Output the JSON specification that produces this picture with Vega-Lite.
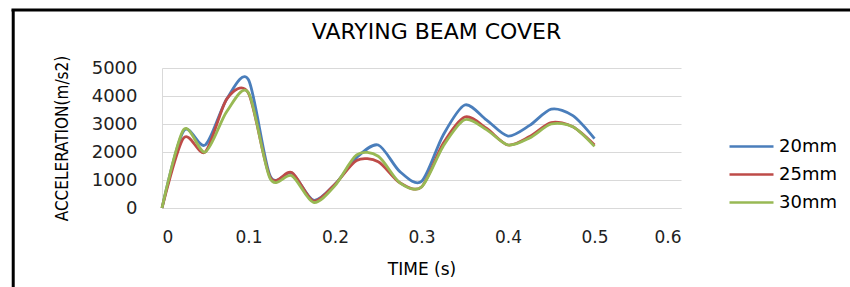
{
  "$schema": "https://vega.github.io/schema/vega-lite/v6.json",
  "width": 519,
  "height": 140,
  "autosize": {"type": "none"},
  "padding": {"left": 162, "top": 68, "right": 169, "bottom": 79},
  "background": "white",
  "config": {"view": {"stroke": null}},
  "title": {"text": "VARYING BEAM COVER", "font": "DejaVu Sans", "fontSize": 22, "fontWeight": "normal", "color": "#000000", "anchor": "middle", "baseline": "bottom", "offset": -58, "dx": 15},
  "datasets": {
    "series": [
      {"t": 0, "a": 0, "s": "20mm"}, {"t": 0.025, "a": 2750, "s": "20mm"}, {"t": 0.05, "a": 2250, "s": "20mm"}, {"t": 0.075, "a": 3900, "s": "20mm"}, {"t": 0.1, "a": 4580, "s": "20mm"}, {"t": 0.125, "a": 1150, "s": "20mm"}, {"t": 0.15, "a": 1250, "s": "20mm"}, {"t": 0.175, "a": 280, "s": "20mm"}, {"t": 0.2, "a": 850, "s": "20mm"}, {"t": 0.225, "a": 1800, "s": "20mm"}, {"t": 0.25, "a": 2250, "s": "20mm"}, {"t": 0.275, "a": 1300, "s": "20mm"}, {"t": 0.3, "a": 950, "s": "20mm"}, {"t": 0.325, "a": 2600, "s": "20mm"}, {"t": 0.35, "a": 3680, "s": "20mm"}, {"t": 0.375, "a": 3150, "s": "20mm"}, {"t": 0.4, "a": 2570, "s": "20mm"}, {"t": 0.425, "a": 2950, "s": "20mm"}, {"t": 0.45, "a": 3530, "s": "20mm"}, {"t": 0.475, "a": 3300, "s": "20mm"}, {"t": 0.5, "a": 2480, "s": "20mm"},
      {"t": 0, "a": 0, "s": "25mm"}, {"t": 0.025, "a": 2500, "s": "25mm"}, {"t": 0.05, "a": 2000, "s": "25mm"}, {"t": 0.075, "a": 3900, "s": "25mm"}, {"t": 0.1, "a": 4100, "s": "25mm"}, {"t": 0.125, "a": 1100, "s": "25mm"}, {"t": 0.15, "a": 1270, "s": "25mm"}, {"t": 0.175, "a": 250, "s": "25mm"}, {"t": 0.2, "a": 850, "s": "25mm"}, {"t": 0.225, "a": 1700, "s": "25mm"}, {"t": 0.25, "a": 1650, "s": "25mm"}, {"t": 0.275, "a": 900, "s": "25mm"}, {"t": 0.3, "a": 750, "s": "25mm"}, {"t": 0.325, "a": 2300, "s": "25mm"}, {"t": 0.35, "a": 3250, "s": "25mm"}, {"t": 0.375, "a": 2850, "s": "25mm"}, {"t": 0.4, "a": 2250, "s": "25mm"}, {"t": 0.425, "a": 2550, "s": "25mm"}, {"t": 0.45, "a": 3050, "s": "25mm"}, {"t": 0.475, "a": 2900, "s": "25mm"}, {"t": 0.5, "a": 2250, "s": "25mm"},
      {"t": 0, "a": 0, "s": "30mm"}, {"t": 0.025, "a": 2800, "s": "30mm"}, {"t": 0.05, "a": 2000, "s": "30mm"}, {"t": 0.075, "a": 3450, "s": "30mm"}, {"t": 0.1, "a": 4120, "s": "30mm"}, {"t": 0.125, "a": 1050, "s": "30mm"}, {"t": 0.15, "a": 1150, "s": "30mm"}, {"t": 0.175, "a": 200, "s": "30mm"}, {"t": 0.2, "a": 800, "s": "30mm"}, {"t": 0.225, "a": 1900, "s": "30mm"}, {"t": 0.25, "a": 1850, "s": "30mm"}, {"t": 0.275, "a": 900, "s": "30mm"}, {"t": 0.3, "a": 750, "s": "30mm"}, {"t": 0.325, "a": 2200, "s": "30mm"}, {"t": 0.35, "a": 3150, "s": "30mm"}, {"t": 0.375, "a": 2800, "s": "30mm"}, {"t": 0.4, "a": 2250, "s": "30mm"}, {"t": 0.425, "a": 2500, "s": "30mm"}, {"t": 0.45, "a": 3000, "s": "30mm"}, {"t": 0.475, "a": 2900, "s": "30mm"}, {"t": 0.5, "a": 2200, "s": "30mm"}
    ]
  },
  "layer": [
    {
      "data": {"name": "series"},
      "mark": {"type": "line", "interpolate": "cardinal", "tension": 0.15, "strokeWidth": 2.8},
      "encoding": {
        "x": {"field": "t", "type": "quantitative",
          "scale": {"domain": [0, 0.6], "nice": false, "zero": false},
          "axis": {"title": "TIME (s)", "values": [0, 0.1, 0.2, 0.3, 0.4, 0.5, 0.6], "format": "~g", "grid": false, "ticks": false, "domainColor": "#d9d9d9", "labelFont": "DejaVu Sans", "labelFontSize": 17, "labelColor": "#222222", "labelPadding": 21, "labelOverlap": false, "titleFont": "DejaVu Sans", "titleFontSize": 17, "titleFontWeight": "normal", "titleColor": "#000000", "titlePadding": 16}},
        "y": {"field": "a", "type": "quantitative",
          "scale": {"domain": [0, 5000], "nice": false},
          "axis": {"title": "ACCELERATION(m/s2)", "values": [0, 1000, 2000, 3000, 4000, 5000], "format": "d", "grid": true, "gridColor": "#d9d9d9", "ticks": false, "domainColor": "#d9d9d9", "labelFont": "DejaVu Sans", "labelFontSize": 18, "labelColor": "#222222", "labelPadding": 25, "labelOverlap": false, "labelBound": false, "titleFont": "DejaVu Sans Condensed", "titleFontSize": 17, "titleFontWeight": "normal", "titleColor": "#000000", "titlePadding": 20}},
        "color": {"field": "s", "type": "nominal",
          "scale": {"domain": ["20mm", "25mm", "30mm"], "range": ["#4a7ebb", "#be4b48", "#98b954"]},
          "legend": {"title": null, "orient": "none", "legendX": 566, "legendY": 70, "symbolType": "stroke", "symbolSize": 1936, "symbolStrokeWidth": 2.5, "clipHeight": 17, "rowPadding": 9, "labelFont": "DejaVu Sans", "labelFontSize": 18, "labelColor": "#000000", "labelOffset": 4}}
      }
    },
    {
      "data": {"values": [{}]},
      "mark": {"type": "rule", "color": "#000000", "strokeWidth": 3},
      "encoding": {
        "x": {"datum": -0.172, "type": "quantitative",
          "axis": {"title": "TIME (s)", "values": [0, 0.1, 0.2, 0.3, 0.4, 0.5, 0.6], "format": "~g", "grid": false, "ticks": false, "domainColor": "#d9d9d9", "labelFont": "DejaVu Sans", "labelFontSize": 17, "labelColor": "#222222", "labelPadding": 21, "labelOverlap": false, "titleFont": "DejaVu Sans", "titleFontSize": 17, "titleFontWeight": "normal", "titleColor": "#000000", "titlePadding": 16}},
        "y": {"datum": 7080, "type": "quantitative",
          "axis": {"title": "ACCELERATION(m/s2)", "values": [0, 1000, 2000, 3000, 4000, 5000], "format": "d", "grid": true, "gridColor": "#d9d9d9", "ticks": false, "domainColor": "#d9d9d9", "labelFont": "DejaVu Sans", "labelFontSize": 18, "labelColor": "#222222", "labelPadding": 25, "labelOverlap": false, "labelBound": false, "titleFont": "DejaVu Sans Condensed", "titleFontSize": 17, "titleFontWeight": "normal", "titleColor": "#000000", "titlePadding": 20}},
        "y2": {"datum": -3000}}
    },
    {
      "data": {"values": [{}]},
      "mark": {"type": "rule", "color": "#000000", "strokeWidth": 3},
      "encoding": {
        "x": {"datum": -0.174, "type": "quantitative",
          "axis": {"title": "TIME (s)", "values": [0, 0.1, 0.2, 0.3, 0.4, 0.5, 0.6], "format": "~g", "grid": false, "ticks": false, "domainColor": "#d9d9d9", "labelFont": "DejaVu Sans", "labelFontSize": 17, "labelColor": "#222222", "labelPadding": 21, "labelOverlap": false, "titleFont": "DejaVu Sans", "titleFontSize": 17, "titleFontWeight": "normal", "titleColor": "#000000", "titlePadding": 16}},
        "x2": {"datum": 0.9},
        "y": {"datum": 7070, "type": "quantitative",
          "axis": {"title": "ACCELERATION(m/s2)", "values": [0, 1000, 2000, 3000, 4000, 5000], "format": "d", "grid": true, "gridColor": "#d9d9d9", "ticks": false, "domainColor": "#d9d9d9", "labelFont": "DejaVu Sans", "labelFontSize": 18, "labelColor": "#222222", "labelPadding": 25, "labelOverlap": false, "labelBound": false, "titleFont": "DejaVu Sans Condensed", "titleFontSize": 17, "titleFontWeight": "normal", "titleColor": "#000000", "titlePadding": 20}}}
    }
  ]
}
